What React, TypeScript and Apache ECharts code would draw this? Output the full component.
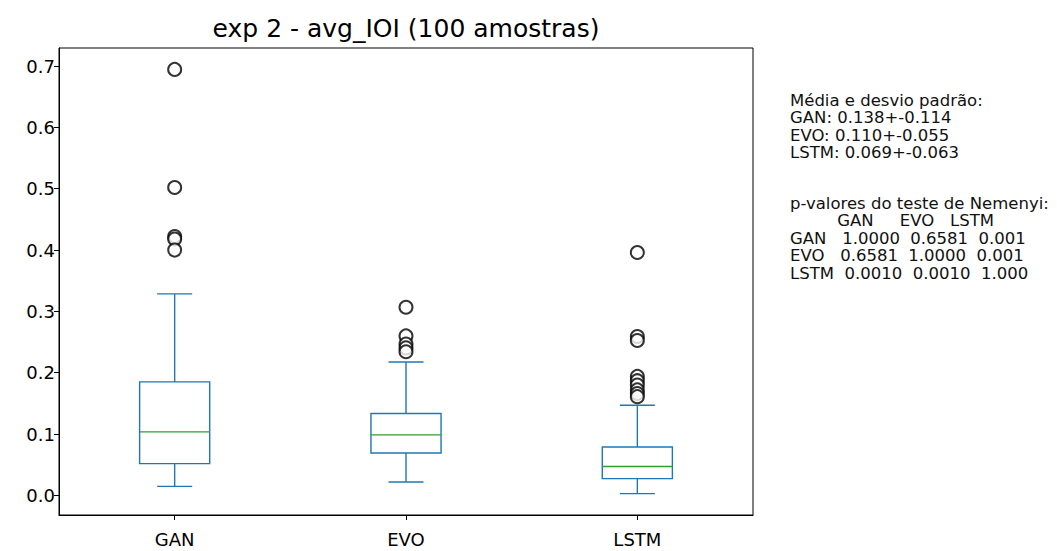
import React, { useEffect, useRef } from "react";
import * as echarts from "echarts";

const categories = ["GAN", "EVO", "LSTM"];
// [low whisker, Q1, median, Q3, high whisker]
const boxStats = [
  [0.0147, 0.0518, 0.1035, 0.185, 0.3285],
  [0.0218, 0.0692, 0.0986, 0.1335, 0.2174],
  [0.0028, 0.0273, 0.0472, 0.079, 0.147],
];
const ganOutliers = [0.6946, 0.502, 0.422, 0.418, 0.4];
const evoOutliers = [0.3067, 0.26, 0.2468, 0.2405, 0.2342];
const lstmOutliers = [0.396, 0.259, 0.2525, 0.194, 0.187, 0.18, 0.172, 0.166, 0.161];
const yTicks = [0, 0.1, 0.2, 0.3, 0.4, 0.5, 0.6, 0.7];

const titleText = "exp 2 - avg_IOI (100 amostras)";
const statsLines = [
  "Média e desvio padrão:",
  "GAN: 0.138+-0.114",
  "EVO: 0.110+-0.055",
  "LSTM: 0.069+-0.063",
];
const nemenyiLines = [
  "p-valores do teste de Nemenyi:",
  "         GAN     EVO   LSTM",
  "GAN   1.0000  0.6581  0.001",
  "EVO   0.6581  1.0000  0.001",
  "LSTM  0.0010  0.0010  1.000",
];

const FONT = "DejaVu Sans";

export default function App() {
  const ref = useRef<HTMLDivElement>(null);
  useEffect(() => {
    if (!ref.current) return;
    const chart = echarts.init(ref.current, undefined, { renderer: "svg" });
    const outlierData: number[][] = [];
    [ganOutliers, evoOutliers, lstmOutliers].forEach((arr, i) =>
      arr.forEach((v) => outlierData.push([i, v]))
    );
    const lineH = 17.5;
    const textEls: any[] = [];
    const txtStyle = { fontSize: 16.5, fontFamily: FONT, fill: "#111", textVerticalAlign: "middle" };
    statsLines.forEach((t, i) =>
      textEls.push({ type: "text", x: 790, y: 100 + i * lineH, style: { ...txtStyle, text: t } })
    );
    nemenyiLines.forEach((t, i) =>
      textEls.push({ type: "text", x: 790, y: 203 + i * lineH, style: { ...txtStyle, text: t } })
    );
    chart.setOption({
      animation: false,
      backgroundColor: "#fff",
      grid: {
        left: 59,
        right: 304,
        top: 48,
        bottom: 36,
        show: true,
        borderColor: "#000",
        borderWidth: 1,
        backgroundColor: "transparent",
      },
      xAxis: {
        type: "category",
        data: categories,
        boundaryGap: true,
        axisLine: { show: true, onZero: false, lineStyle: { color: "#000", width: 1 } },
        axisTick: { show: true, alignWithLabel: true, length: 5, lineStyle: { color: "#000" } },
        axisLabel: { color: "#000", fontSize: 18, fontFamily: FONT, margin: 15 },
        splitLine: { show: false },
      },
      yAxis: {
        type: "value",
        min: -0.032,
        max: 0.7295,
        axisLine: { show: true, lineStyle: { color: "#000", width: 1 } },
        axisTick: { show: true, length: 5, lineStyle: { color: "#000" }, customValues: yTicks },
        axisLabel: {
          color: "#000",
          fontSize: 18,
          fontFamily: FONT,
          margin: 4,
          customValues: yTicks,
          formatter: (v: number) => v.toFixed(1),
        },
        splitLine: { show: false },
      },
      graphic: [
        {
          type: "text",
          x: 406,
          y: 28,
          style: {
            text: titleText,
            fontSize: 25,
            fontFamily: FONT,
            fill: "#000",
            textAlign: "center",
            textVerticalAlign: "middle",
          },
        },
        ...textEls,
      ],
      series: [
        {
          type: "custom",
          data: boxStats.map((s, i) => [i, ...s]),
          encode: { x: 0, y: [1, 2, 3, 4, 5] },
          renderItem: (params: any, api: any) => {
            const idx = api.value(0);
            const pLow = api.coord([idx, api.value(1)]);
            const pQ1 = api.coord([idx, api.value(2)]);
            const pMed = api.coord([idx, api.value(3)]);
            const pQ3 = api.coord([idx, api.value(4)]);
            const pHigh = api.coord([idx, api.value(5)]);
            const band = api.size([1, 0])[0];
            const bw = band * 0.303;
            const cw = bw / 2;
            const cx = pMed[0];
            const blue = { stroke: "#1f77b4", lineWidth: 1.4, fill: "none" };
            return {
              type: "group",
              children: [
                { type: "line", shape: { x1: cx, y1: pQ3[1], x2: cx, y2: pHigh[1] }, style: blue },
                { type: "line", shape: { x1: cx, y1: pQ1[1], x2: cx, y2: pLow[1] }, style: blue },
                { type: "line", shape: { x1: cx - cw / 2, y1: pHigh[1], x2: cx + cw / 2, y2: pHigh[1] }, style: blue },
                { type: "line", shape: { x1: cx - cw / 2, y1: pLow[1], x2: cx + cw / 2, y2: pLow[1] }, style: blue },
                {
                  type: "rect",
                  shape: { x: cx - bw / 2, y: pQ3[1], width: bw, height: pQ1[1] - pQ3[1] },
                  style: blue,
                },
                {
                  type: "line",
                  shape: { x1: cx - bw / 2, y1: pMed[1], x2: cx + bw / 2, y2: pMed[1] },
                  style: { stroke: "#2ca02c", lineWidth: 1.4 },
                },
              ],
            };
          },
          z: 2,
        },
        {
          type: "scatter",
          data: outlierData,
          symbol: "emptyCircle",
          symbolSize: 13,
          itemStyle: { color: "#000", borderColor: "#000", borderWidth: 1.5 },
          z: 3,
        },
      ],
    });
    return () => chart.dispose();
  }, []);
  return (
    <div
      ref={ref}
      style={{ position: "fixed", left: 0, top: 0, width: 1057, height: 551 }}
    />
  );
}
